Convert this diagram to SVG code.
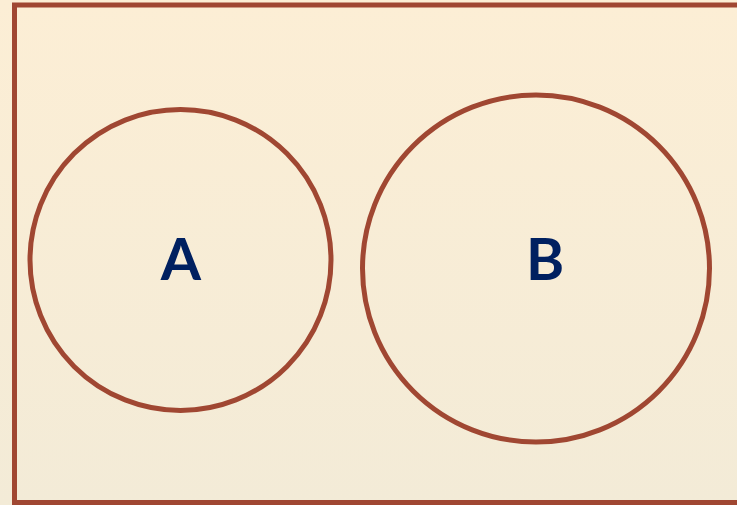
<svg xmlns="http://www.w3.org/2000/svg" width="737" height="505" viewBox="0 0 737 505">
<defs>
<linearGradient id="bg" x1="0" y1="0" x2="0" y2="1">
<stop offset="0" stop-color="#FCEED5"/>
<stop offset="1" stop-color="#F3EBD7"/>
</linearGradient>
<style>
.set{fill:none;stroke:#A04732;stroke-width:5}
.lbl{font-family:Lato,"Liberation Sans",sans-serif;font-weight:bold;font-size:58px;fill:#002060;text-anchor:middle}
</style>
</defs>
<rect x="0" y="0" width="737" height="505" fill="url(#bg)"/>
<g id="universe">
<rect x="14.5" y="5" width="740" height="497.5" fill="url(#bg)" stroke="#A04732" stroke-width="5"/>
</g>
<g id="setA">
<circle class="set" cx="180.5" cy="260" r="150.5"/>
<text class="lbl" x="181" y="280">A</text>
</g>
<g id="setB">
<circle class="set" cx="536" cy="268.5" r="173.5"/>
<text class="lbl" x="545" y="280">B</text>
</g>
<g id="connectors"/>
</svg>
